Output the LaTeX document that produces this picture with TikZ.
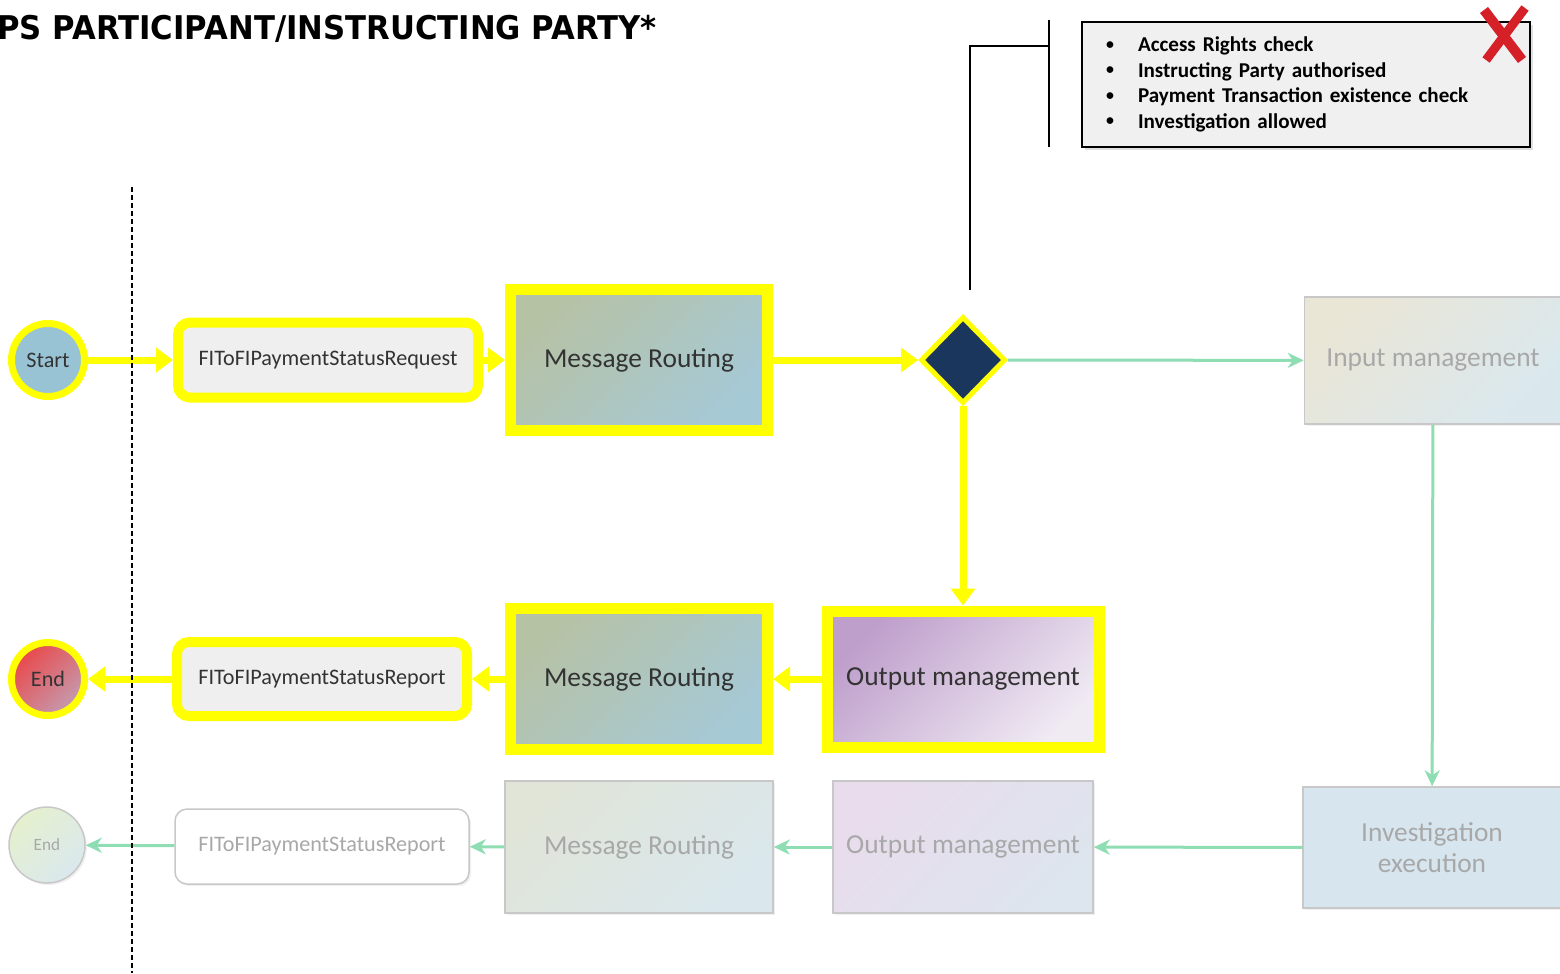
\documentclass[tikz,border=0pt]{standalone}
\usepackage{fontspec}
\setmainfont{Carlito}
\newfontfamily\headfont{DejaVu Sans}
\usetikzlibrary{arrows.meta,positioning,shapes.geometric,shadows}
\definecolor{hlyellow}{RGB}{255,255,0}
\definecolor{routeA}{RGB}{182,194,164}
\definecolor{routeB}{RGB}{166,201,214}
\definecolor{outA}{RGB}{190,158,203}
\definecolor{outB}{RGB}{240,234,243}
\definecolor{startblue}{RGB}{152,195,213}
\definecolor{endA}{RGB}{234,72,74}
\definecolor{endB}{RGB}{196,156,176}
\definecolor{msggray}{RGB}{239,239,239}
\definecolor{gatenavy}{RGB}{27,54,93}
\definecolor{mint}{RGB}{142,221,179}
\definecolor{inA}{RGB}{234,230,214}
\definecolor{inB}{RGB}{218,232,238}
\definecolor{invfill}{RGB}{215,230,238}
\definecolor{outFA}{RGB}{233,220,237}
\definecolor{outFB}{RGB}{221,229,238}
\definecolor{routeFA}{RGB}{224,229,216}
\definecolor{routeFB}{RGB}{218,231,236}
\definecolor{finFA}{RGB}{229,240,206}
\definecolor{finFB}{RGB}{218,232,238}
\definecolor{fadegray}{RGB}{200,200,200}
\definecolor{fadetext}{RGB}{168,168,168}
\definecolor{callgray}{RGB}{240,240,240}
\definecolor{crossred}{RGB}{214,32,40}
\newcommand{\chkitem}{\makebox[0.32cm][l]{\raisebox{0.25ex}{\scalebox{0.75}{\textbullet}}}}

\begin{document}
\begin{tikzpicture}[
    stepbox/.style={rectangle, minimum width=2.57cm, minimum height=1.41cm, inner sep=0pt,
        font=\fontsize{7.8}{9}\selectfont, text=black!80},
    msgbox/.style={rectangle, rounded corners=0.12cm, minimum width=3.0cm, minimum height=0.75cm,
        inner sep=0pt, font=\fontsize{6.3}{7.5}\selectfont, text=black!80},
    event/.style={circle, minimum size=0.73cm, inner sep=0pt, font=\fontsize{6.3}{7.5}\selectfont, text=black!80},
    hl/.style={draw=hlyellow, line width=0.1cm},
    faded/.style={draw=fadegray, line width=0.015cm, text=fadetext,
        drop shadow={shadow xshift=0.02cm, shadow yshift=-0.02cm, opacity=0.12}},
    harr/.style={-{Triangle[length=0.17cm,width=0.24cm]}, draw=hlyellow, line width=0.07cm},
    garr/.style={-{Stealth[length=0.16cm,width=0.15cm,inset=0.05cm]}, draw=mint, line width=0.03cm},
    callline/.style={draw=black, line width=0.02cm}
]
\useasboundingbox (0,0) rectangle (15.6,-9.73);

\node[anchor=base west, font=\headfont\bfseries\fontsize{9.3}{11}\selectfont] (title) at (-0.15,-0.40)
    {\scalebox{0.94}[1]{PS PARTICIPANT/INSTRUCTING PARTY*}};

% highlighted path
\node[event, hl, line width=0.07cm, fill=startblue] (start) at (0.48,-3.60) {Start};
\node[msgbox, hl, fill=msggray] (req) at (3.28,-3.60) {FIToFIPaymentStatusRequest};
\node[stepbox, hl, line width=0.11cm, top color=routeA, bottom color=routeB, shading angle=45] (route) at (6.39,-3.60) {Message Routing};
\node[diamond, draw=hlyellow, line width=0.05cm, fill=gatenavy, minimum width=0.85cm, minimum height=0.87cm,
    inner sep=0pt] (gate) at (9.63,-3.60) {};
\node[stepbox, hl, line width=0.11cm, minimum width=2.72cm, minimum height=1.36cm, top color=outA, bottom color=outB,
    shading angle=45] (outmgmt) at (9.63,-6.79) {Output management};
\node[stepbox, hl, line width=0.11cm, top color=routeA, bottom color=routeB, shading angle=45] (route2) at (6.39,-6.79) {Message Routing};
\node[msgbox, hl, minimum width=2.9cm, minimum height=0.74cm, fill=msggray] (rep) at (3.22,-6.79) {FIToFIPaymentStatusReport};
\node[event, hl, line width=0.07cm, top color=endA, bottom color=endB, shading angle=45] (finish) at (0.48,-6.79) {End};

% faded path
\node[stepbox, faded, minimum height=1.27cm, top color=inA, bottom color=inB, shading angle=45] (inmgmt) at (14.33,-3.605) {Input management};
\node[stepbox, faded, minimum width=2.58cm, minimum height=1.21cm, fill=invfill, align=center,
    font=\fontsize{7.8}{8.8}\selectfont] (invexec) at (14.32,-8.475) {Investigation\\execution};
\node[stepbox, faded, minimum width=2.6cm, minimum height=1.32cm, top color=outFA, bottom color=outFB, shading angle=45] (outmgmtF) at (9.63,-8.47) {Output management};
\node[stepbox, faded, minimum width=2.68cm, minimum height=1.32cm, top color=routeFA, bottom color=routeFB, shading angle=45] (routeF) at (6.39,-8.47) {Message Routing};
\node[msgbox, faded, minimum width=2.94cm, fill=white] (repF) at (3.22,-8.465) {FIToFIPaymentStatusReport};
\node[event, faded, minimum size=0.76cm, top color=finFA, bottom color=finFB, shading angle=45,
    font=\fontsize{4.9}{6}\selectfont] (finishF) at (0.47,-8.45) {End};

\draw[harr] (start) -- (req);
\draw[harr] (req) -- (route);
\draw[harr] (route) -- (gate);
\draw[harr] (gate) -- (outmgmt);
\draw[harr] (outmgmt) -- (route2);
\draw[harr] (route2) -- (rep);
\draw[harr] (rep) -- (finish);

\draw[garr] (gate) -- (inmgmt);
\draw[garr] (inmgmt) -- (invexec);
\draw[garr] (invexec) -- (outmgmtF);
\draw[garr] (outmgmtF) -- (routeF);
\draw[garr] (routeF) -- (repF);
\draw[garr] (repF) -- (finishF);

% checks callout
\node[draw=black, line width=0.02cm, fill=callgray, minimum width=4.48cm, minimum height=1.25cm,
    text width=4.0cm, inner xsep=0.24cm, align=left, font=\bfseries\fontsize{6}{7.26}\selectfont,
    drop shadow={shadow xshift=0.03cm, shadow yshift=-0.03cm, opacity=0.25}] (checks) at (13.06,-0.845)
    {\chkitem Access Rights check\\
     \chkitem Instructing Party authorised\\
     \chkitem Payment Transaction existence check\\
     \chkitem Investigation allowed};
\draw[crossred, line width=0.1cm] (14.84,-0.10) -- (15.22,-0.60);
\draw[crossred, line width=0.09cm] (15.25,-0.08) -- (14.86,-0.60);

\coordinate (brk) at (10.49,-0.46);
\coordinate (tail) at (9.70,-2.90);
\draw[callline] (tail) |- (brk);
\draw[callline] (brk) ++(0,0.26) -- ++(0,-1.27);

% lane separator
\draw[black, line width=0.02cm, dash pattern=on 0.05cm off 0.03cm] (1.32,-1.87) -- (1.32,-9.73);
\end{tikzpicture}
\end{document}
